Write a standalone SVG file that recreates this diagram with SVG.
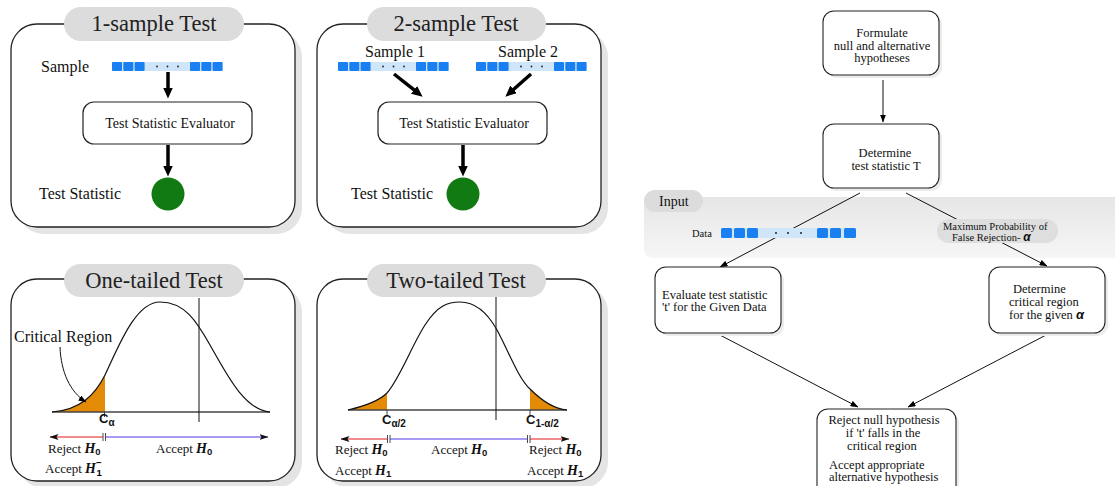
<svg xmlns="http://www.w3.org/2000/svg" width="1115" height="486" viewBox="0 0 1115 486">
<style>
.panel{fill:#fff;stroke:#222;stroke-width:1.3}
.shadow{fill:#e4e4e4}
.pill{fill:#dcdcdc}
.title{font-family:"Liberation Serif",serif;font-size:22.5px;text-anchor:middle;fill:#222}
.lbl{font-family:"Liberation Serif",serif;font-size:16px;fill:#111}
.box{fill:#fff;stroke:#222;stroke-width:1.2}
.ev{font-family:"Liberation Serif",serif;font-size:14px;fill:#111;text-anchor:middle}
.sq{fill:#1a7ff0}
.bg{fill:#cfe5fa}
.dot{fill:#222}
.thick{stroke:#000;stroke-width:3.5;fill:none}
.ball{fill:#127a12}
.axis{stroke:#444;stroke-width:1.5}
.curve{fill:none;stroke:#111;stroke-width:1.2}
.tail{fill:#e38b06}
.vline{stroke:#111;stroke-width:1}
.rej{stroke:#f28b8b;stroke-width:2}
.acc{stroke:#a899f2;stroke-width:2}
.tk{stroke:#333;stroke-width:0.9}
.cl{font-family:"Liberation Sans",sans-serif;font-weight:bold;font-size:13px;fill:#111}
.cs{font-size:10px}
.hl{font-family:"Liberation Serif",serif;font-size:13px;fill:#111}
.H{font-weight:bold;font-style:italic;font-size:14px}
.hs{font-family:"Liberation Sans",sans-serif;font-weight:bold;font-size:9.5px}
.fbox{fill:#fff;stroke:#222;stroke-width:1.1}
.fsh{fill:#ececec}
.ft{font-family:"Liberation Serif",serif;font-size:12.5px;fill:#111}
.fc{text-anchor:middle}
.conn{stroke:#111;stroke-width:1;fill:none}
.alpha{font-family:"Liberation Sans",sans-serif;font-weight:bold;font-style:italic}
</style>
<defs>
<marker id="mThick" markerUnits="userSpaceOnUse" markerWidth="11" markerHeight="10" viewBox="0 0 11 10" refX="0.5" refY="5" orient="auto"><path d="M0,0 L11,5 L0,10 Z" fill="#000"/></marker>
<marker id="mThin" markerUnits="userSpaceOnUse" markerWidth="8" markerHeight="6" viewBox="0 0 8 6" refX="7.5" refY="3" orient="auto-start-reverse"><path d="M0,0 L8,3 L0,6 Z" fill="#000"/></marker>
<marker id="mAx" markerUnits="userSpaceOnUse" markerWidth="9" markerHeight="6" viewBox="0 0 9 6" refX="8.5" refY="3" orient="auto-start-reverse"><path d="M0,0 L9,3 L0,6 L2,3 Z" fill="#111"/></marker>
<g id="bar">
<rect class="bg" x="0" y="0" width="110.6" height="9"/>
<rect class="sq" x="0" y="0" width="10" height="9" rx="1"/>
<rect class="sq" x="11.3" y="0" width="10" height="9" rx="1"/>
<rect class="sq" x="22.6" y="0" width="10" height="9" rx="1"/>
<circle class="dot" cx="45" cy="4.5" r="0.9"/>
<circle class="dot" cx="55.5" cy="4.5" r="0.9"/>
<circle class="dot" cx="66" cy="4.5" r="0.9"/>
<rect class="sq" x="78" y="0" width="10" height="9" rx="1"/>
<rect class="sq" x="89.3" y="0" width="10" height="9" rx="1"/>
<rect class="sq" x="100.6" y="0" width="10" height="9" rx="1"/>
</g>
<linearGradient id="band" x1="0" y1="0" x2="0" y2="1">
<stop offset="0" stop-color="#e6e6e6"/>
<stop offset="1" stop-color="#f6f6f6"/>
</linearGradient>
</defs>

<!-- Panel 1 -->
<g id="panel-1sample">
<rect class="shadow" x="18" y="31" width="284" height="203" rx="26"/>
<rect class="panel" x="11" y="24" width="284" height="203" rx="26"/>
<rect class="pill" x="64" y="7" width="180" height="34" rx="17"/>
<text class="title" x="154" y="31">1-sample Test</text>
<text class="lbl" x="41" y="72">Sample</text>
<use href="#bar" x="112" y="62"/>
<line class="thick" x1="168" y1="72" x2="168" y2="88" marker-end="url(#mThick)"/>
<rect class="box" x="83" y="102" width="169" height="42" rx="11"/>
<text class="ev" x="170" y="127.5">Test Statistic Evaluator</text>
<line class="thick" x1="168" y1="145" x2="168" y2="166" marker-end="url(#mThick)"/>
<circle class="ball" cx="168" cy="194" r="16.5"/>
<text class="lbl" x="39" y="199">Test Statistic</text>
</g>

<!-- Panel 2 -->
<g id="panel-2sample">
<rect class="shadow" x="324" y="31" width="284" height="203" rx="26"/>
<rect class="panel" x="317" y="24" width="284" height="203" rx="26"/>
<rect class="pill" x="367" y="7" width="179" height="34" rx="17"/>
<text class="title" x="456" y="31">2-sample Test</text>
<text class="lbl" x="395" y="57" text-anchor="middle">Sample 1</text>
<text class="lbl" x="528" y="57" text-anchor="middle">Sample 2</text>
<use href="#bar" x="338" y="62"/>
<use href="#bar" x="476" y="62"/>
<line class="thick" x1="394" y1="74" x2="414.4" y2="90.2" marker-end="url(#mThick)"/>
<line class="thick" x1="531" y1="74" x2="513.2" y2="89.7" marker-end="url(#mThick)"/>
<rect class="box" x="378" y="102" width="169" height="42" rx="11"/>
<text class="ev" x="464" y="127.5">Test Statistic Evaluator</text>
<line class="thick" x1="463" y1="145" x2="463" y2="166" marker-end="url(#mThick)"/>
<circle class="ball" cx="463" cy="194" r="16.5"/>
<text class="lbl" x="351" y="199">Test Statistic</text>
</g>

<!-- Panel 3 -->
<g id="panel-onetailed">
<rect class="shadow" x="18" y="286" width="284" height="202" rx="26"/>
<rect class="panel" x="11" y="279" width="284" height="202" rx="26"/>
<rect class="pill" x="64" y="264" width="180" height="33" rx="16.5"/>
<text class="title" x="154" y="288">One-tailed Test</text>
<path class="tail" d="M52,412 C80,410 95,395 105,375 L105,412 Z"/>
<line class="axis" x1="52" y1="412" x2="270" y2="412"/>
<path class="curve" d="M52,412 C80,410 95,395 105,375 C118,348 135,302 160,302 C185,302 197,322 210,345 C228,377 245,410 270,412"/>
<line class="vline" x1="199" y1="298" x2="199" y2="422"/>
<line class="tk" x1="104.5" y1="412" x2="104.5" y2="417"/>
<text class="cl" x="99" y="423">C<tspan class="cs" dy="3">α</tspan></text>
<text class="lbl" x="14" y="342">Critical Region</text>
<path class="conn" d="M60,347 C61,372 70,392 86,402" marker-end="url(#mThin)"/>
<line class="rej" x1="50" y1="437" x2="103" y2="437" marker-start="url(#mAx)"/>
<line class="acc" x1="106" y1="437" x2="268" y2="437" marker-end="url(#mAx)"/>
<line class="tk" x1="103" y1="433" x2="103" y2="441"/>
<line class="tk" x1="105.5" y1="433" x2="105.5" y2="441"/>
<text class="hl" x="48" y="453">Reject <tspan class="H">H</tspan><tspan class="hs" dy="2">0</tspan></text>
<text class="hl" x="156" y="453">Accept <tspan class="H">H</tspan><tspan class="hs" dy="2">0</tspan></text>
<text class="hl" x="45" y="473">Accept <tspan class="H">H</tspan></text>
<text class="hs" x="96.5" y="476">1</text>
<text class="hs" x="96" y="466">−</text>
</g>

<!-- Panel 4 -->
<g id="panel-twotailed">
<rect class="shadow" x="324" y="286" width="284" height="202" rx="26"/>
<rect class="panel" x="317" y="279" width="284" height="202" rx="26"/>
<rect class="pill" x="367" y="264" width="179" height="33" rx="16.5"/>
<text class="title" x="456" y="288">Two-tailed Test</text>
<path class="tail" d="M348,410 C365,406 380,400 387,393 L387,410 Z"/>
<path class="tail" d="M530,389 C543,402 555,409 567,410 L530,410 Z"/>
<line class="axis" x1="348" y1="410" x2="567" y2="410"/>
<path class="curve" d="M348,410 C365,406 380,400 387,393 C400,378 412,345 425,325 C438,305 448,302 460,302 C475,302 487,312 497,330 C508,350 518,378 530,389 C543,402 555,409 567,410"/>
<line class="vline" x1="496" y1="297" x2="496" y2="420"/>
<line class="tk" x1="387" y1="410" x2="387" y2="415"/>
<line class="tk" x1="530" y1="410" x2="530" y2="415"/>
<text class="cl" x="382" y="424">C<tspan class="cs" dy="3">α/2</tspan></text>
<text class="cl" x="526" y="424">C<tspan class="cs" dy="3">1-α/2</tspan></text>
<line class="rej" x1="341" y1="439" x2="387" y2="439" marker-start="url(#mAx)"/>
<line class="acc" x1="390" y1="439" x2="527" y2="439"/>
<line class="rej" x1="530" y1="439" x2="569" y2="439" marker-end="url(#mAx)"/>
<line class="tk" x1="387.5" y1="435" x2="387.5" y2="443"/>
<line class="tk" x1="390" y1="435" x2="390" y2="443"/>
<line class="tk" x1="527.5" y1="435" x2="527.5" y2="443"/>
<line class="tk" x1="530" y1="435" x2="530" y2="443"/>
<text class="hl" x="335" y="454">Reject <tspan class="H">H</tspan><tspan class="hs" dy="2">0</tspan></text>
<text class="hl" x="431" y="454">Accept <tspan class="H">H</tspan><tspan class="hs" dy="2">0</tspan></text>
<text class="hl" x="529" y="454">Reject <tspan class="H">H</tspan><tspan class="hs" dy="2">0</tspan></text>
<text class="hl" x="335" y="475">Accept <tspan class="H">H</tspan><tspan class="hs" dy="2">1</tspan></text>
<text class="hl" x="527" y="475">Accept <tspan class="H">H</tspan><tspan class="hs" dy="2">1</tspan></text>
</g>

<!-- Flowchart -->
<g id="input-band">
<path d="M654,197 H1115 V258 H654 Q644,258 644,248 V207 Q644,197 654,197 Z" fill="url(#band)"/>
<rect class="pill" x="644" y="190" width="59" height="22" rx="11"/>
<text x="659" y="205.5" font-family="Liberation Serif, serif" font-size="14" fill="#111">Input</text>
</g>

<g id="node-formulate">
<rect class="fsh" x="826" y="14" width="116" height="64" rx="11"/>
<rect class="fbox" x="823" y="11" width="116" height="64" rx="11"/>
<text class="ft fc" x="882" y="37">Formulate</text>
<text class="ft fc" x="882" y="49.5">null and alternative</text>
<text class="ft fc" x="882" y="62">hypotheses</text>
</g>

<g id="node-determine-T">
<rect class="fsh" x="826" y="127" width="116" height="64" rx="11"/>
<rect class="fbox" x="823" y="124" width="116" height="64" rx="11"/>
<text class="ft fc" x="885" y="157">Determine</text>
<text class="ft fc" x="886" y="169.5">test statistic T</text>
</g>

<g id="connectors">
<line class="conn" x1="883" y1="80" x2="883" y2="122" marker-end="url(#mThin)"/>
<line class="conn" x1="860" y1="193" x2="720" y2="267" marker-end="url(#mThin)"/>
<line class="conn" x1="906" y1="193" x2="1047" y2="266" marker-end="url(#mThin)"/>
<line class="conn" x1="718" y1="334" x2="858" y2="407" marker-end="url(#mThin)"/>
<line class="conn" x1="1048" y1="334" x2="908" y2="407" marker-end="url(#mThin)"/>
</g>

<g id="node-data">
<text x="692" y="237" font-family="Liberation Serif, serif" font-size="10.5" fill="#111">Data</text>
<rect class="bg" x="721" y="228" width="135" height="10"/>
<rect class="sq" x="721" y="228" width="11" height="10" rx="1.5"/>
<rect class="sq" x="734" y="228" width="11" height="10" rx="1.5"/>
<rect class="sq" x="747" y="228" width="11" height="10" rx="1.5"/>
<circle class="dot" cx="776" cy="233" r="1"/>
<circle class="dot" cx="788" cy="233" r="1"/>
<circle class="dot" cx="801" cy="233" r="1"/>
<rect class="sq" x="817" y="228" width="11" height="10" rx="1.5"/>
<rect class="sq" x="830" y="228" width="11" height="10" rx="1.5"/>
<rect class="sq" x="844" y="228" width="12" height="10" rx="1.5"/>
</g>

<g id="node-alpha">
<rect x="937" y="219" width="121" height="24" rx="12" fill="#dedede"/>
<text x="943" y="229.5" font-family="Liberation Serif, serif" font-size="10.5" fill="#111">Maximum Probability of</text>
<text x="952" y="241" font-family="Liberation Serif, serif" font-size="10.5" fill="#111">False Rejection- <tspan class="alpha" font-size="12">α</tspan></text>
</g>

<g id="node-evaluate">
<rect class="fsh" x="658" y="270" width="126" height="66" rx="11"/>
<rect class="fbox" x="655" y="267" width="126" height="66" rx="11"/>
<text class="ft" x="662" y="299">Evaluate test statistic</text>
<text class="ft" x="662" y="311">'t' for the Given Data</text>
</g>

<g id="node-critical">
<rect class="fsh" x="992" y="270" width="116" height="66" rx="11"/>
<rect class="fbox" x="989" y="267" width="116" height="66" rx="11"/>
<text class="ft" x="1013" y="293">Determine</text>
<text class="ft" x="1009" y="306">critical region</text>
<text class="ft" x="1009" y="319">for the given <tspan class="alpha" font-size="13"> α</tspan></text>
</g>

<g id="node-reject">
<rect class="fsh" x="820" y="412" width="139" height="90" rx="11"/>
<rect class="fbox" x="817" y="409" width="139" height="90" rx="11"/>
<text class="ft fc" x="884" y="424">Reject null hypothesis</text>
<text class="ft fc" x="883" y="437">if 't' falls in the</text>
<text class="ft fc" x="882" y="450">critical region</text>
<text class="ft" x="829" y="469">Accept appropriate</text>
<text class="ft" x="829" y="481">alternative hypothesis</text>
</g>
</svg>
